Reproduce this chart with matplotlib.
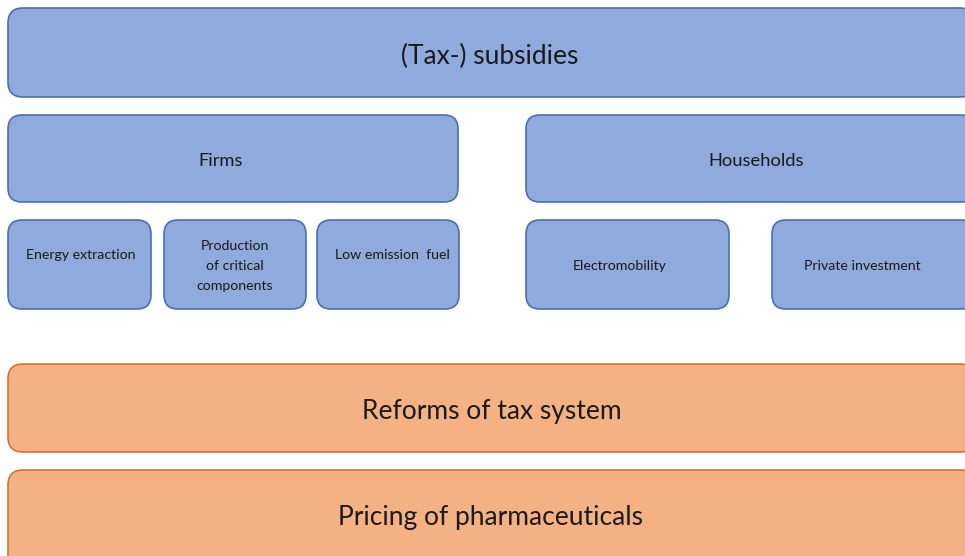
import matplotlib
matplotlib.use("Agg")
import matplotlib.pyplot as plt
from matplotlib.patches import FancyBboxPatch

plt.rcParams['font.family'] = ['Lato', 'DejaVu Sans']

# labels of the diagram, by row
top_label = "(Tax-) subsidies"
group_labels = ["Firms", "Households"]
item_labels = ["Energy extraction", "Production\nof critical\ncomponents",
               "Low emission  fuel", "Electromobility", "Private investment"]
bottom_labels = ["Reforms of tax system", "Pricing of pharmaceuticals"]

BLUE_FILL = "#8FAADC"
BLUE_EDGE = "#4A6FB5"
ORANGE_FILL = "#F4B183"
ORANGE_EDGE = "#DC7030"
TEXT = "#1a1a1a"

W, H = 965, 556
fig = plt.figure(figsize=(W / 100, H / 100), dpi=100)
ax = fig.add_axes([0, 0, 1, 1])
ax.set_xlim(0, W)
ax.set_ylim(H, 0)
ax.axis("off")


def box(x0, y0, x1, y1, fill, edge, r=14):
    p = FancyBboxPatch((x0, y0), x1 - x0, y1 - y0,
                       boxstyle=f"round,pad=0,rounding_size={r}",
                       facecolor=fill, edgecolor=edge, linewidth=1.2)
    ax.add_patch(p)


def label(x, y, s, size, ls=1.5):
    ax.text(x, y, s, ha="center", va="center", fontsize=size,
            color=TEXT, linespacing=ls)


# top row
box(8, 8, 975, 97, BLUE_FILL, BLUE_EDGE, r=15)
label(490, 56, top_label, 19)

# groups
group_x = [(8, 458), (526, 975)]
group_tx = [220.5, 756]
for (x0, x1), tx, lab in zip(group_x, group_tx, group_labels):
    box(x0, 115, x1, 202, BLUE_FILL, BLUE_EDGE)
    label(tx, 160.5, lab, 13.2)

# items
item_x = [(8, 151), (164, 306), (317, 459), (526, 729), (772, 975)]
item_tx = [81, 235, 392.5, 620, 862]
item_ty = [255, 266, 255, 266, 266]
for (x0, x1), tx, ty, lab in zip(item_x, item_tx, item_ty, item_labels):
    box(x0, 220, x1, 309, BLUE_FILL, BLUE_EDGE)
    label(tx, ty, lab, 10.2, ls=1.75)

# bottom rows
bottom_y = [(364, 452), (470, 580)]
bottom_tx = [491.5, 490]
bottom_ty = [412, 518]
for (y0, y1), tx, ty, lab in zip(bottom_y, bottom_tx, bottom_ty, bottom_labels):
    box(8, y0, 975, y1, ORANGE_FILL, ORANGE_EDGE, r=15)
    label(tx, ty, lab, 19)

fig.savefig("out.png", dpi=100)
